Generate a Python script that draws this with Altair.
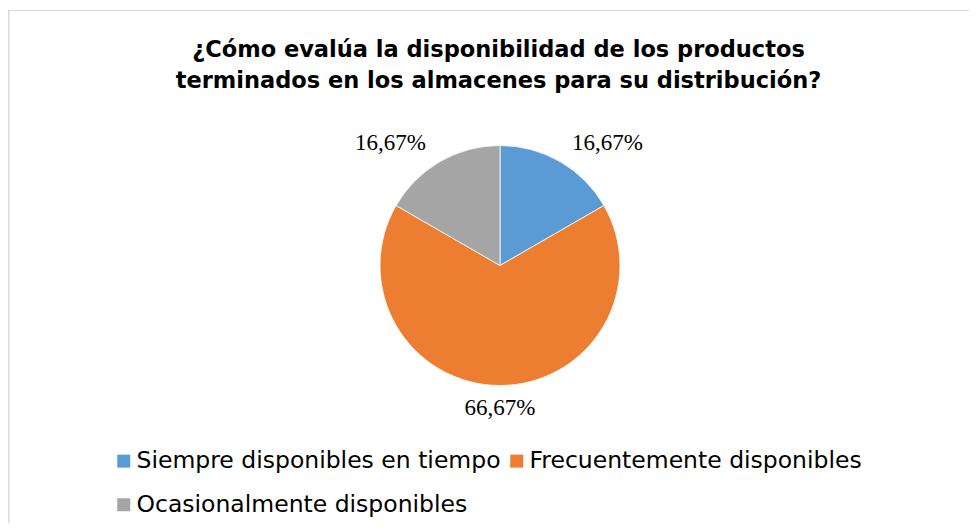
import altair as alt
import pandas as pd

categories = ["Siempre disponibles en tiempo", "Frecuentemente disponibles", "Ocasionalmente disponibles"]
percent = [16.67, 66.67, 16.67]
colors = ["#5B9BD5", "#ED7D31", "#A5A5A5"]
title_lines = ["¿Cómo evalúa la disponibilidad de los productos",
               "terminados en los almacenes para su distribución?"]

df = pd.DataFrame({"cat": categories, "pct": percent, "order": list(range(len(categories)))})
title_df = pd.DataFrame({"t": ["\n".join(title_lines)]})

CX, CY, R, LR = 492, 257.5, 120, 142

base = alt.Chart(df)

pie = base.mark_arc(radius=R, stroke="white", strokeWidth=0.8).encode(
    theta=alt.Theta("pct:Q", stack=True),
    color=alt.Color(
        "cat:N",
        scale=alt.Scale(domain=categories, range=colors),
        sort=categories,
        legend=alt.Legend(
            title=None, orient="none", legendX=104, legendY=441,
            direction="horizontal", columns=2, columnPadding=4, rowPadding=19,
            symbolType="square", symbolSize=169, symbolStrokeWidth=0,
            labelFont="DejaVu Sans", labelFontSize=23.5, labelColor="#000000",
            labelOffset=1, labelLimit=600, padding=0,
        ),
    ),
    order=alt.Order("order:Q"),
    x=alt.value(CX),
    y=alt.value(CY),
)

lab_base = base.transform_window(
    cum="sum(pct)", sort=[alt.SortField("order")]
).transform_joinaggregate(total="sum(pct)").transform_calculate(
    mid="(datum.cum - datum.pct/2) / datum.total * 2 * PI",
    lx=f"{CX} + {LR} * sin(datum.mid)",
    ly=f"{CY} - {LR} * cos(datum.mid)",
    lab="replace(format(datum.pct, '.2f'), '.', ',') + '%'",
)

def label_layer(cond, align, dx):
    return lab_base.transform_filter(cond).mark_text(
        align=align, baseline="middle", font="Liberation Serif", fontSize=23,
        color="#000000", dx=dx,
    ).encode(
        x=alt.X("lx:Q", scale=None),
        y=alt.Y("ly:Q", scale=None),
        text="lab:N",
    )

labels_r = label_layer("sin(datum.mid) > 0.3", "left", 1)
labels_l = label_layer("sin(datum.mid) < -0.3", "right", -3)
labels_c = label_layer("abs(sin(datum.mid)) <= 0.3", "center", 0)

title = alt.Chart(title_df).mark_text(
    align="center", baseline="top", font="DejaVu Sans", fontSize=22.5,
    fontWeight="bold", color="#000000", lineBreak="\n", lineHeight=31,
).encode(text="t:N", x=alt.value(490.5), y=alt.value(31))

border_top = alt.Chart(title_df).mark_rule(color="#d9d9d9", strokeWidth=1.2).encode(
    x=alt.value(0), x2=alt.value(961), y=alt.value(2.5)
)
border_left = alt.Chart(title_df).mark_rule(color="#d9d9d9", strokeWidth=1.5).encode(
    x=alt.value(0.8), y=alt.value(2.5), y2=alt.value(515)
)

chart = alt.layer(border_top, border_left, pie, labels_r, labels_l, labels_c, title).properties(
    width=961, height=515, autosize=alt.AutoSizeParams(type="none"), padding=0,
    background="white",
).configure_view(stroke=None)

chart.save("out.html", embed_options={"renderer": "svg", "actions": False})
